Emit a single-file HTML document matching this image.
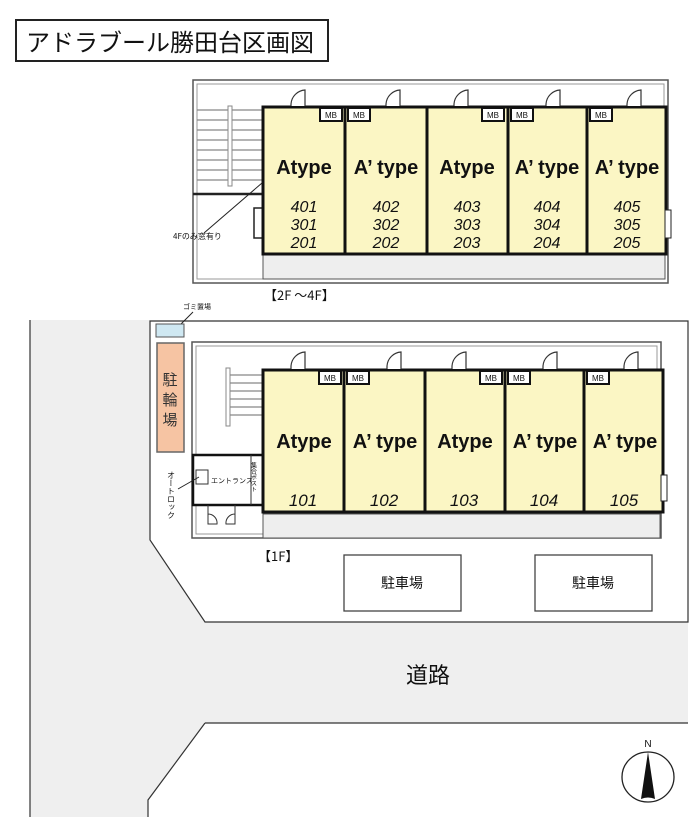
<!DOCTYPE html>
<html><head><meta charset="utf-8"><style>
body{margin:0;background:#fff;width:700px;height:817px;overflow:hidden}
svg{display:block}
text{font-family:"Liberation Sans","Noto Sans CJK JP",sans-serif}
.j{font-family:"Noto Sans CJK JP","WenQuanYi Zen Hei",sans-serif}
</style></head><body>
<svg width="700" height="817" viewBox="0 0 700 817" xmlns="http://www.w3.org/2000/svg">
<!-- gray road region -->
<path d="M30 320 L150 320 L150 540 L205 622 L688 622 L688 723 L205 723 L148 800 L148 817 L30 817 Z" fill="#efefef"/>
<line x1="30" y1="320" x2="30" y2="817" stroke="#333" stroke-width="1.2"/>
<!-- lot -->
<path d="M150 321 L688 321 L688 622 L205 622 L150 540 Z" fill="#fff" stroke="#333" stroke-width="1.2"/>
<path d="M205 723 L688 723" stroke="#333" stroke-width="1.2"/>
<path d="M205 723 L148 800 L148 817" fill="none" stroke="#333" stroke-width="1.2"/>

<!-- title -->
<rect x="16" y="20" width="312" height="41" fill="#fff" stroke="#222" stroke-width="2"/>
<text x="26" y="51" class="j" font-size="24" fill="#111">アドラブール勝田台区画図</text>

<!-- ===== TOP BUILDING ===== -->
<rect x="193" y="80" width="475" height="203" fill="#fff" stroke="#555" stroke-width="1.5"/>
<rect x="197" y="84" width="467" height="195" fill="none" stroke="#999" stroke-width="1"/>
<!-- stairs -->
<g stroke="#888" stroke-width="1.2">
<line x1="197" y1="110" x2="263" y2="110"/><line x1="197" y1="120" x2="263" y2="120"/>
<line x1="197" y1="130" x2="263" y2="130"/><line x1="197" y1="140" x2="263" y2="140"/>
<line x1="197" y1="150" x2="263" y2="150"/><line x1="197" y1="160" x2="263" y2="160"/>
<line x1="197" y1="170" x2="263" y2="170"/><line x1="197" y1="180" x2="263" y2="180"/>
</g>
<rect x="228" y="106" width="4" height="80" fill="#fff" stroke="#888"/>
<line x1="193" y1="194" x2="263" y2="194" stroke="#222" stroke-width="2.5"/>
<rect x="254" y="208" width="9" height="30" fill="#fff" stroke="#222" stroke-width="1.5"/>
<!-- balcony -->
<rect x="263" y="254" width="402" height="25" fill="#eee" stroke="#555"/>
<!-- units -->
<rect x="263" y="107" width="403" height="147" fill="#fbf6c4" stroke="#111" stroke-width="3"/>
<g stroke="#111" stroke-width="3">
<line x1="345" y1="107" x2="345" y2="254"/><line x1="427" y1="107" x2="427" y2="254"/>
<line x1="508" y1="107" x2="508" y2="254"/><line x1="587" y1="107" x2="587" y2="254"/>
</g>
<g fill="#fff" stroke="#111" stroke-width="2">
<rect x="320" y="108" width="22" height="13"/><rect x="348" y="108" width="22" height="13"/>
<rect x="482" y="108" width="22" height="13"/><rect x="511" y="108" width="22" height="13"/>
<rect x="590" y="108" width="22" height="13"/>
</g>
<g font-size="8" fill="#111" text-anchor="middle">
<text x="331" y="118">MB</text><text x="359" y="118">MB</text><text x="493" y="118">MB</text><text x="522" y="118">MB</text><text x="601" y="118">MB</text>
</g>
<!-- doors -->
<g fill="#fff" stroke="#333" stroke-width="1.2">
<path d="M305 106 V90 A15 15 0 0 0 291 104 V106"/>
<path d="M400 106 V90 A15 15 0 0 0 386 104 V106"/>
<path d="M468 106 V90 A15 15 0 0 0 454 104 V106"/>
<path d="M560 106 V90 A15 15 0 0 0 546 104 V106"/>
<path d="M641 106 V90 A15 15 0 0 0 627 104 V106"/>
</g>
<rect x="665" y="210" width="6" height="28" fill="#fff" stroke="#222"/>
<g font-weight="bold" font-size="20" fill="#111" text-anchor="middle">
<text x="304" y="174">Atype</text><text x="386" y="174">A’ type</text><text x="467" y="174">Atype</text><text x="547" y="174">A’ type</text><text x="627" y="174">A’ type</text>
</g>
<g font-style="italic" font-size="16" fill="#111" text-anchor="middle">
<text x="304" y="212">401</text><text x="304" y="230">301</text><text x="304" y="248">201</text>
<text x="386" y="212">402</text><text x="386" y="230">302</text><text x="386" y="248">202</text>
<text x="467" y="212">403</text><text x="467" y="230">303</text><text x="467" y="248">203</text>
<text x="547" y="212">404</text><text x="547" y="230">304</text><text x="547" y="248">204</text>
<text x="627" y="212">405</text><text x="627" y="230">305</text><text x="627" y="248">205</text>
</g>
<line x1="204" y1="233" x2="262" y2="183" stroke="#222" stroke-width="1"/>
<text x="173" y="239" class="j" font-size="8" fill="#111">4Fのみ窓有り</text>
<text x="264" y="300" font-size="13" fill="#111" class="j">【2F ～4F】</text>

<!-- ===== BOTTOM ===== -->
<text x="183" y="309" class="j" font-size="7" fill="#111">ゴミ置場</text>
<line x1="193" y1="312" x2="172" y2="333" stroke="#222"/>
<rect x="156" y="324" width="28" height="13" fill="#cfe8f2" stroke="#555"/>
<rect x="157" y="343" width="27" height="109" fill="#f6c4a3" stroke="#666" stroke-width="1.5"/>
<text x="170" y="385" class="j" font-size="15" fill="#333" text-anchor="middle">駐</text>
<text x="170" y="405" class="j" font-size="15" fill="#333" text-anchor="middle">輪</text>
<text x="170" y="425" class="j" font-size="15" fill="#333" text-anchor="middle">場</text>

<rect x="192" y="342" width="469" height="196" fill="#fff" stroke="#555" stroke-width="1.5"/>
<rect x="196" y="346" width="461" height="188" fill="none" stroke="#999"/>
<g stroke="#888" stroke-width="1.2">
<line x1="230" y1="375" x2="263" y2="375"/><line x1="230" y1="383" x2="263" y2="383"/>
<line x1="230" y1="391" x2="263" y2="391"/><line x1="230" y1="399" x2="263" y2="399"/>
<line x1="230" y1="407" x2="263" y2="407"/><line x1="230" y1="415" x2="263" y2="415"/>
</g>
<rect x="226" y="368" width="4" height="58" fill="#fff" stroke="#888"/>
<!-- entrance -->
<rect x="193" y="455" width="70" height="50" fill="#fff" stroke="#111" stroke-width="2.5"/>
<line x1="251" y1="455" x2="251" y2="505" stroke="#333"/>
<rect x="196" y="470" width="12" height="14" fill="#fff" stroke="#333"/>
<text x="211" y="483" class="j" font-size="7" fill="#111">エントランス</text>
<text x="254" y="462" class="j" font-size="6" fill="#111" writing-mode="tb">集合ポスト</text>
<path d="M208 505 V524 H217 A9 9 0 0 0 208 514 M235 505 V524 H226 A9 9 0 0 1 235 514" fill="none" stroke="#333"/>
<text x="171" y="471" class="j" font-size="8" fill="#111" writing-mode="tb">オートロック</text>
<line x1="178" y1="489" x2="199" y2="477" stroke="#222"/>
<!-- balcony -->
<rect x="263" y="514" width="397" height="24" fill="#eee" stroke="#555"/>
<rect x="263" y="370" width="400" height="142" fill="#fbf6c4" stroke="#111" stroke-width="3"/>
<g stroke="#111" stroke-width="3">
<line x1="344" y1="370" x2="344" y2="512"/><line x1="425" y1="370" x2="425" y2="512"/>
<line x1="505" y1="370" x2="505" y2="512"/><line x1="584" y1="370" x2="584" y2="512"/>
</g>
<g fill="#fff" stroke="#111" stroke-width="2">
<rect x="319" y="371" width="22" height="13"/><rect x="347" y="371" width="22" height="13"/>
<rect x="480" y="371" width="22" height="13"/><rect x="508" y="371" width="22" height="13"/>
<rect x="587" y="371" width="22" height="13"/>
</g>
<g font-size="8" fill="#111" text-anchor="middle">
<text x="330" y="381">MB</text><text x="358" y="381">MB</text><text x="491" y="381">MB</text><text x="519" y="381">MB</text><text x="598" y="381">MB</text>
</g>
<g fill="#fff" stroke="#333" stroke-width="1.2">
<path d="M305 369 V352 A15 15 0 0 0 291 366 V369"/>
<path d="M401 369 V352 A15 15 0 0 0 387 366 V369"/>
<path d="M466 369 V352 A15 15 0 0 0 452 366 V369"/>
<path d="M557 369 V352 A15 15 0 0 0 543 366 V369"/>
<path d="M638 369 V352 A15 15 0 0 0 624 366 V369"/>
</g>
<rect x="661" y="475" width="6" height="26" fill="#fff" stroke="#222"/>
<g font-weight="bold" font-size="20" fill="#111" text-anchor="middle">
<text x="304" y="448">Atype</text><text x="385" y="448">A’ type</text><text x="465" y="448">Atype</text><text x="545" y="448">A’ type</text><text x="625" y="448">A’ type</text>
</g>
<g font-style="italic" font-size="17" fill="#111" text-anchor="middle">
<text x="303" y="506">101</text><text x="384" y="506">102</text><text x="464" y="506">103</text><text x="544" y="506">104</text><text x="624" y="506">105</text>
</g>
<text x="258" y="561" font-size="13" fill="#111" class="j">【1F】</text>
<!-- parking -->
<rect x="344" y="555" width="117" height="56" fill="#fff" stroke="#444" stroke-width="1.3"/>
<rect x="535" y="555" width="117" height="56" fill="#fff" stroke="#444" stroke-width="1.3"/>
<text x="402" y="588" class="j" font-size="14" fill="#111" text-anchor="middle">駐車場</text>
<text x="593" y="588" class="j" font-size="14" fill="#111" text-anchor="middle">駐車場</text>
<text x="428" y="683" class="j" font-size="22" fill="#111" text-anchor="middle">道路</text>
<!-- compass -->
<text x="648" y="747" font-size="10" fill="#111" text-anchor="middle">N</text>
<ellipse cx="648" cy="777" rx="26" ry="25" fill="#fff" stroke="#222" stroke-width="1.3"/>
<path d="M648 752 L655 799 Q648 796 641 799 Z" fill="#111"/>
</svg>
</body></html>
